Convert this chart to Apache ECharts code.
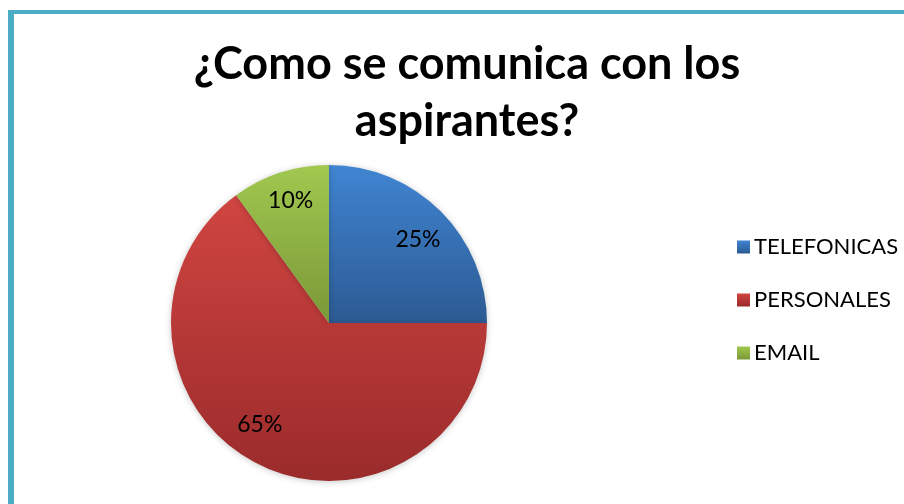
<!DOCTYPE html>
<html>
<head>
<meta charset="utf-8">
<script src="https://cdn.jsdelivr.net/npm/echarts@6/dist/echarts.min.js"></script>
<style>
  html, body { margin: 0; padding: 0; background: #ffffff; }
  #frame {
    position: absolute; left: 8px; top: 10px; width: 896px; height: 494px;
    border-left: 6px solid #4bacc6; border-top: 4px solid #4bacc6;
    box-sizing: border-box;
  }
  #chart { position: absolute; left: 0; top: 0; width: 904px; height: 504px; }
</style>
</head>
<body>
<div id="frame"></div>
<div id="chart"></div>
<script>
// Survey answers: how candidates are contacted
const categories = ['TELEFONICAS', 'PERSONALES', 'EMAIL'];
const percentages = [25, 65, 10];
const titleText = '¿Como se comunica con los\naspirantes?';

// Top-to-bottom shading per slice
const sliceColors = [
  ['#4085d2', '#2c5a93'],
  ['#d04541', '#9a2b2b'],
  ['#a1c84f', '#7a9838']
];
// Nudges the percentage labels out from the mid-radius point
const labelNudges = [[31, -25], [-32, 29], [-13, -44]];

const FONT = 'Lato, "Open Sans", sans-serif';

const data = categories.map((name, i) => ({
  name: name,
  value: percentages[i],
  itemStyle: {
    color: new echarts.graphic.LinearGradient(0, 0, 0, 1, [
      { offset: 0, color: sliceColors[i][0] },
      { offset: 1, color: sliceColors[i][1] }
    ])
  },
  label: { offset: labelNudges[i] }
}));

const chart = echarts.init(document.getElementById('chart'), null, { renderer: 'canvas' });
chart.setOption({
  animation: false,
  backgroundColor: 'transparent',
  color: sliceColors.map(c => c[0]),
  title: {
    text: titleText,
    left: 462,
    top: 31,
    textAlign: 'center',
    textStyle: {
      fontFamily: FONT,
      fontWeight: 'bold',
      fontSize: 45,
      lineHeight: 57,
      color: '#000000'
    }
  },
  legend: {
    orient: 'vertical',
    left: 732,
    top: 231,
    icon: 'rect',
    itemWidth: 13,
    itemHeight: 13,
    itemGap: 31,
    textStyle: { fontFamily: FONT, fontSize: 22, color: '#000000', padding: [0, 0, 0, -1] },
    data: categories.map((name, i) => ({
      name: name,
      itemStyle: {
        color: new echarts.graphic.LinearGradient(0, 0, 0, 1, [
          { offset: 0, color: sliceColors[i][0] },
          { offset: 1, color: sliceColors[i][1] }
        ])
      }
    }))
  },
  series: [{
    type: 'pie',
    center: [329, 323],
    radius: 158,
    startAngle: 90,
    clockwise: true,
    avoidLabelOverlap: false,
    silent: true,
    itemStyle: {
      borderWidth: 0,
      shadowBlur: 6,
      shadowColor: 'rgba(0,0,0,0.22)',
      shadowOffsetY: 1
    },
    label: {
      show: true,
      position: 'inside',
      formatter: p => p.value + '%',
      fontFamily: FONT,
      fontSize: 23,
      color: '#000000'
    },
    labelLine: { show: false },
    data: data
  }]
});
</script>
</body>
</html>
